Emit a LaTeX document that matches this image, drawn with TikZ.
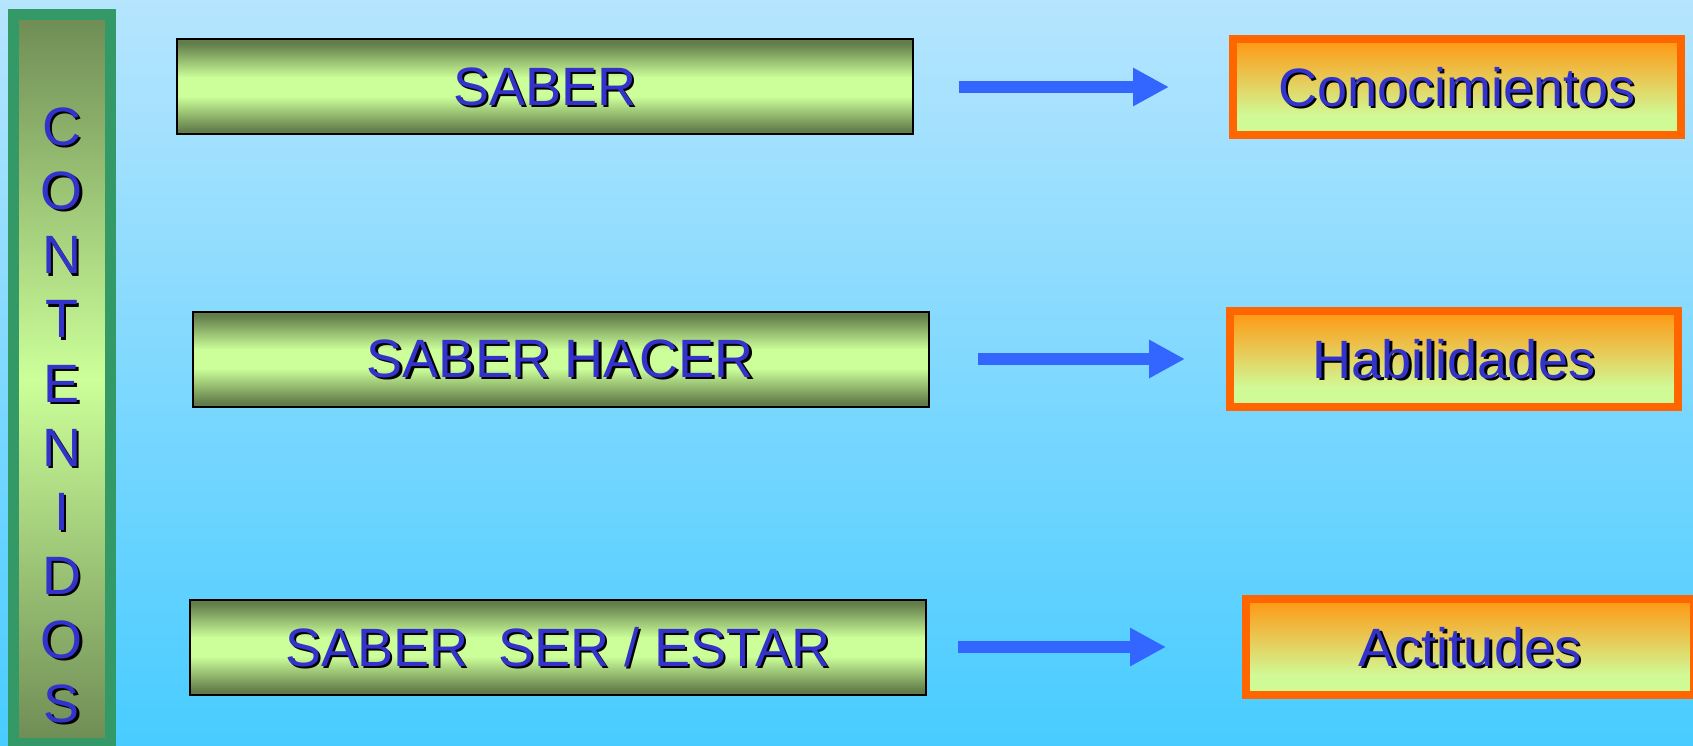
\documentclass[tikz,border=0pt]{standalone}
\usepackage{fontspec}
\setmainfont{Liberation Sans}
\usetikzlibrary{arrows.meta}
\definecolor{bgtop}{RGB}{182,229,254}
\definecolor{bgbot}{RGB}{72,204,255}
\definecolor{olivedk}{RGB}{98,124,74}
\definecolor{olivemd}{RGB}{110,140,85}
\definecolor{lightg}{RGB}{204,255,153}
\definecolor{boxorange}{RGB}{255,152,20}
\definecolor{boxlg}{RGB}{208,250,150}
\definecolor{orangeline}{RGB}{255,102,0}
\definecolor{greenline}{RGB}{51,153,102}
\definecolor{txtblue}{RGB}{51,51,204}
\definecolor{arrowblue}{RGB}{51,102,255}
\pgfdeclareverticalshading{oliveband}{100bp}{color(0bp)=(olivedk); color(27bp)=(olivedk); color(45bp)=(lightg); color(55bp)=(lightg); color(73bp)=(olivedk); color(100bp)=(olivedk)}
\pgfdeclareverticalshading{olivepillar}{100bp}{color(0bp)=(olivemd); color(25bp)=(olivemd); color(50bp)=(lightg); color(75bp)=(olivemd); color(100bp)=(olivemd)}
\pgfdeclareverticalshading{orangefade}{100bp}{color(0bp)=(boxlg); color(35bp)=(boxlg); color(74bp)=(boxorange); color(100bp)=(boxorange)}
\newcommand\shtxt[1]{\rlap{\smash{\kern2.2pt\raisebox{-2.2pt}{\color{black}#1}}}{\color{txtblue}#1}}
\begin{document}
\begin{tikzpicture}[x=1pt,y=-1pt,
  lbl/.style={font=\fontsize{54}{64.1}\selectfont, inner sep=0pt},
  sbox/.style={draw=black, line width=2pt, shading=oliveband, minimum width=736pt, minimum height=95pt, inner sep=0pt, lbl},
  obox/.style={draw=orangeline, line width=8pt, shading=orangefade, minimum width=448pt, minimum height=96pt, inner sep=0pt, lbl},
  bigarrow/.style={draw=arrowblue, line width=12pt, -{Triangle[length=36pt,width=36pt]}}]
\useasboundingbox (0,0) rectangle (1693,746);
\shade[top color=bgtop, bottom color=bgbot] (0,0) rectangle (1693,746);
% left pillar
\node[draw=greenline, line width=11pt, shading=olivepillar, minimum width=97pt, minimum height=729pt, inner sep=0pt] (pillar) at (62,379) {};
\node[lbl, align=center] (contenidos) at (62,415.5)
  {\shtxt{C}\\\shtxt{O}\\\shtxt{N}\\\shtxt{T}\\\shtxt{E}\\\shtxt{N}\\\shtxt{I}\\\shtxt{D}\\\shtxt{O}\\\shtxt{S}};
% left boxes
\node[sbox] (s1) at (545,87) {\shtxt{SABER}};
\node[sbox] (s2) at (560.5,359) {\shtxt{SABER HACER}};
\node[sbox] (s3) at (558,647) {\shtxt{SABER~ SER / ESTAR}};
% right boxes
\node[obox] (c1) at (1457,87) {\shtxt{Conocimientos}};
\node[obox] (c2) at (1454,359) {\shtxt{Habilidades}};
\node[obox] (c3) at (1470,647) {\shtxt{Actitudes}};
% arrows
\draw[bigarrow, shorten <=45pt, shorten >=60pt] (s1.east) -- (c1.west);
\draw[bigarrow, shorten <=48pt, shorten >=41pt] (s2.east) -- (c2.west);
\draw[bigarrow, shorten <=31pt, shorten >=76pt] (s3.east) -- (c3.west);
\end{tikzpicture}
\end{document}
